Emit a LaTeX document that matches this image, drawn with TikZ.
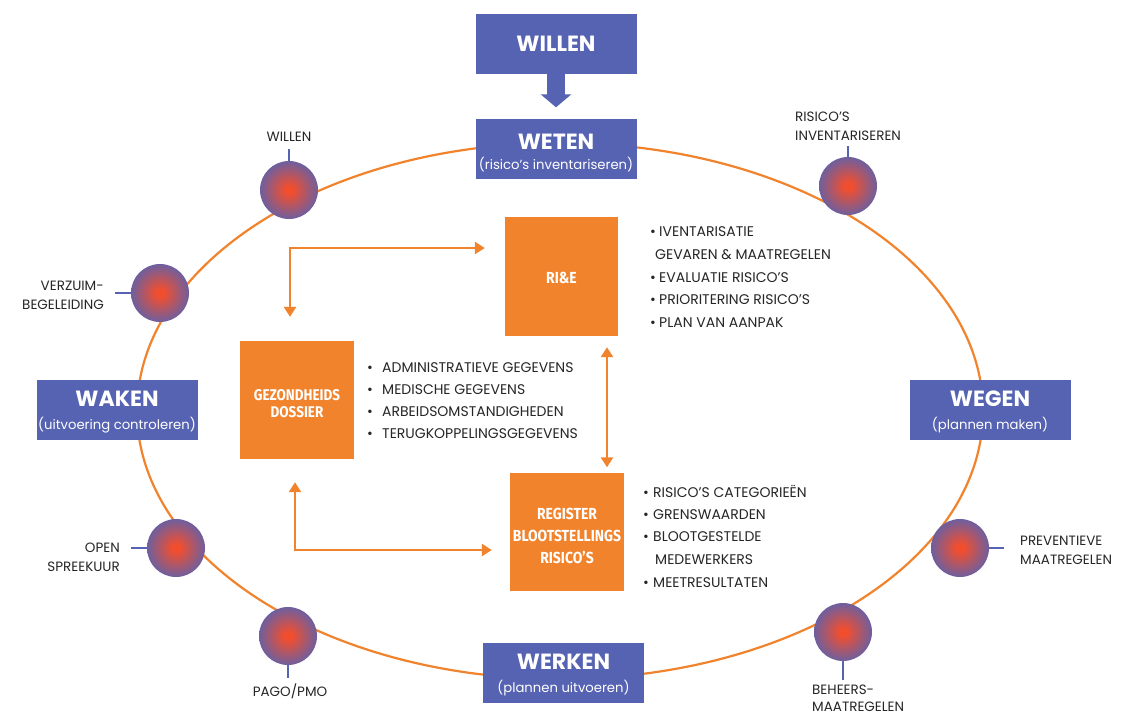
\documentclass[tikz,border=0pt]{standalone}
\usepackage{fontspec}
\setmainfont{Poppins}
\newfontfamily\condfont[FakeStretch=0.87]{Fira Sans}
\usetikzlibrary{arrows.meta}
\definecolor{bl}{RGB}{86,98,178}
\definecolor{og}{RGB}{241,131,44}
\definecolor{ballc}{RGB}{242,78,46}
\definecolor{txt}{RGB}{38,38,38}
\pgfdeclareradialshading{ballshade}{\pgfpoint{0bp}{0bp}}{color(0bp)=(ballc); color(3bp)=(ballc); color(29bp)=(bl); color(50bp)=(bl)}
\tikzset{
 bbox/.style={fill=bl, minimum width=161pt, minimum height=60pt, inner sep=0pt},
 obox/.style={fill=og, minimum width=114pt, minimum height=118pt, inner sep=0pt},
 ttl/.style={text=white, font=\fontsize{22}{25}\selectfont\bfseries, inner sep=0pt},
 sub/.style={text=white, font=\fontsize{13.2}{15}\selectfont, inner sep=0pt, anchor=base},
 otxt/.style={text=white, font=\condfont\fontsize{16}{17}\selectfont\bfseries, align=center, inner sep=0pt},
 li/.style={text=txt, font=\fontsize{14}{16}\selectfont, anchor=base west, inner sep=0pt},
 lab/.style={text=txt, font=\fontsize{13.5}{15}\selectfont, inner sep=0pt},
 ball/.style={circle, minimum size=58pt, inner sep=0pt, shading=ballshade},
 tick/.style={draw=bl, line width=2pt},
 oarr/.style={draw=og, line width=2.5pt, {Triangle[length=10pt,width=12pt]}-{Triangle[length=10pt,width=12pt]}},
 blarr/.style={draw=bl, line width=18pt, -{Triangle[length=13pt,width=30pt]}},
}
\begin{document}
\begin{tikzpicture}[x=1pt,y=-1pt]
\useasboundingbox[fill=white] (0,0) rectangle (1124,715);
% ellipse
\draw[og, line width=2.2pt] (560,411) ellipse [x radius=423, y radius=268];
% blue boxes
\node[bbox] (willen) at (556,44) {};
\node[ttl] (twillen) at (willen) {WILLEN};
\node[bbox] (weten) at (556,148.5) {};
\node[ttl] (tweten) at (556,142) {WETEN};
\node[sub] (sweten) at (556,169.5) {(risico’s inventariseren)};
\node[bbox] (waken) at (117,410) {};
\node[ttl] (twaken) at (117,399) {WAKEN};
\node[sub] (swaken) at (117,429.5) {(uitvoering controleren)};
\node[bbox] (wegen) at (990,409.5) {};
\node[ttl] (twegen) at (990,399) {WEGEN};
\node[sub] (swegen) at (990,429.5) {(plannen maken)};
\node[bbox] (werken) at (563.5,672.5) {};
\node[ttl] (twerken) at (563.5,662) {WERKEN};
\node[sub] (swerken) at (563.5,692.5) {(plannen uitvoeren)};
\draw[blarr, shorten >=11pt] (willen.south) -- (weten.north);
% orange boxes
\node[obox, minimum width=113pt, minimum height=119pt] (rie) at (561.5,276.5) {};
\node[otxt] (trie) at (561.5,278) {RI\&E};
\node[obox] (gez) at (297,400) {};
\node[otxt, font=\condfont\fontsize{15.5}{17}\selectfont\bfseries] (tgez) at (297,404) {GEZONDHEIDS\\DOSSIER};
\node[obox] (reg) at (567,532) {};
\node[otxt, font=\condfont\fontsize{16}{22}\selectfont\bfseries] (treg) at (567,535.5) {REGISTER\\BLOOTSTELLINGS\\RISICO’S};
% orange arrows
\draw[oarr] ([xshift=-7pt,yshift=24pt]gez.north) |- ([xshift=-20pt,yshift=28.5pt]rie.west);
\draw[oarr] ([xshift=-2pt,yshift=-23pt]gez.south) |- ([xshift=-18pt,yshift=-18pt]reg.west);
\draw[oarr] ([xshift=45.5pt,yshift=-11pt]rie.south) -- ([xshift=40pt,yshift=5.5pt]reg.north);
% lists
\foreach \y/\t [count=\i] in {236.5/IVENTARISATIE, 282.5/EVALUATIE RISICO’S, 304.5/PRIORITERING RISICO’S, 327.5/PLAN VAN AANPAK}{
  \node[li] (rb\i) at (650,\y) {\textbullet};
  \node[li] (rt\i) at (659,\y) {\t};
}
\node[li] (rt5) at (655,259.5) {GEVAREN \& MAATREGELEN};
\foreach \y/\t [count=\i] in {372.5/ADMINISTRATIEVE GEGEVENS, 394.5/MEDISCHE GEGEVENS, 416.5/ARBEIDSOMSTANDIGHEDEN, 438.5/TERUGKOPPELINGSGEGEVENS}{
  \node[li] (gb\i) at (367,\y) {\textbullet};
  \node[li] (gt\i) at (382,\y) {\t};
}
\foreach \y/\t [count=\i] in {497.5/RISICO’S CATEGORIEËN, 519.5/GRENSWAARDEN, 541.5/BLOOTGESTELDE, 587.5/MEETRESULTATEN}{
  \node[li] (eb\i) at (643,\y) {\textbullet};
  \node[li] (et\i) at (653,\y) {\t};
}
\node[li] (et5) at (655,564.5) {MEDEWERKERS};
% balls
\node[ball] (c1) at (289,190) {};
\node[ball] (c2) at (848,186) {};
\node[ball] (c3) at (160,293) {};
\node[ball] (c4) at (176,548) {};
\node[ball] (c5) at (288,636) {};
\node[ball] (c6) at (843,632) {};
\node[ball] (c7) at (960,548) {};
\draw[tick] (c1.north) -- ++(0,-12);
\draw[tick] (c2.north) -- ++(0,-11);
\draw[tick] (c3.west) -- ++(-16,0);
\draw[tick] (c4.west) -- ++(-16,0);
\draw[tick] (c5.south) -- ++(0,13);
\draw[tick] (c6.south) -- ++(0,19);
\draw[tick] (c7.east) -- ++(15,0);
% labels
\node[lab, anchor=base] (l1) at (289,141.5) {WILLEN};
\node[lab, anchor=base west] (l2a) at (795,121.5) {RISICO’S};
\node[lab, anchor=base west] (l2b) at (795,140.5) {INVENTARISEREN};
\node[lab, anchor=base east] (l3a) at (104,290.5) {VERZUIM-};
\node[lab, anchor=base east] (l3b) at (104,309.5) {BEGELEIDING};
\node[lab, anchor=base east] (l4a) at (120,552.5) {OPEN};
\node[lab, anchor=base east] (l4b) at (120,571) {SPREEKUUR};
\node[lab, anchor=base] (l5) at (290,696.5) {PAGO/PMO};
\node[lab, anchor=base west] (l6a) at (812,694.5) {BEHEERS-};
\node[lab, anchor=base west] (l6b) at (812,711.5) {MAATREGELEN};
\node[lab, anchor=base west] (l7a) at (1020,545) {PREVENTIEVE};
\node[lab, anchor=base west] (l7b) at (1020,564) {MAATREGELEN};
\end{tikzpicture}
\end{document}
